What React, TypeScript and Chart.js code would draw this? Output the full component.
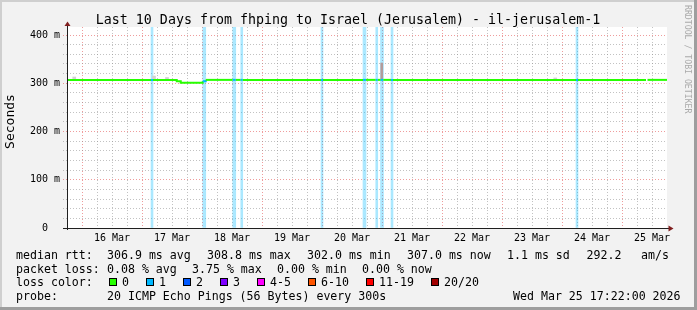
import React, { useEffect, useRef } from 'react';
import { Chart, registerables } from 'chart.js';

Chart.register(...registerables);

// ---- time axis (hours since 15 Mar 00:00) ----
const X_MIN = 18;
const X_MAX = 258;
const X_GRID_HOURS = [24, 30, 36, 42, 48, 54, 60, 66, 72, 78, 84, 90, 96, 102, 108, 114, 120, 126, 132, 138, 144, 150, 156, 162, 168, 174, 180, 186, 192, 198, 204, 210, 216, 222, 228, 234, 240, 246, 252];
const DAY_LABEL_HOURS = [36, 60, 84, 108, 132, 156, 180, 204, 228, 252];
const DAY_LABELS = ['16 Mar', '17 Mar', '18 Mar', '19 Mar', '20 Mar', '21 Mar', '22 Mar', '23 Mar', '24 Mar', '25 Mar'];

// ---- value axis (ms) ----
const Y_MAX = 416.6;
const Y_GRID = [0, 20, 40, 60, 80, 100, 120, 140, 160, 180, 200, 220, 240, 260, 280, 300, 320, 340, 360, 380, 400];
const Y_LABEL_VALUES = [0, 100, 200, 300, 400];
const Y_LABELS = ['0  ', '100 m', '200 m', '300 m', '400 m'];

// ---- median rtt (stepped) with loss index per step ----
const RTT_HOURS = [18, 51.6, 52.4, 61.9, 63.5, 72.3, 73.5, 84.3, 85.5, 87.5, 88.3, 119.6, 120.4, 136.4, 137.6, 141.5, 142.3, 143.5, 144.5, 147.6, 148.4, 221.6, 222.4, 249.6, 249.8, 250.2, 258];
const RTT_MS = [307, 307, 307, 304, 301.3, 304, 307, 307, 307, 307, 307, 307, 307, 307, 307, 307, 307, 307, 307, 307, 307, 307, 307, 307, null, 307, 307];
const RTT_LOSS = [0, 1, 0, 0, 0, 1, 0, 1, 0, 1, 0, 1, 0, 1, 0, 1, 0, 1, 0, 1, 0, 1, 0, 0, 0, 0, 0];

// ---- packet-loss background bars (hours) ----
const LOSS_BAR_HOURS_WIDE = [72.9, 84.9, 137.0, 144.0];
const LOSS_BAR_HOURS_NARROW = [52.0, 87.9, 120.0, 141.9, 148.0, 222.0];

// ---- smoke (ms ranges) ----
const SMOKE_HOURS = [20.9, 52.8, 58.0, 213.3];
const SMOKE_LOW = [308, 309, 309, 309];
const SMOKE_HIGH = [313, 315, 312, 311];
const SMOKE_DARK_HOURS = [143.9];
const SMOKE_DARK_LOW = [309];
const SMOKE_DARK_HIGH = [342];

// ---- legend ----
const LOSS_LEGEND_LABELS = ['0', '1', '2', '3', '4-5', '6-10', '11-19', '20/20'];
const LOSS_COLORS = ['#26ff00', '#00b8ff', '#0059ff', '#7e00ff', '#ff00ff', '#ff5500', '#ff0000', '#a10000'];
const RTT_STATS = ['306.9 ms avg', '308.8 ms max', '302.0 ms min', '307.0 ms now', '1.1 ms sd', '292.2', 'am/s'];
const LOSS_STATS = ['0.08 % avg', '3.75 % max', '0.00 % min', '0.00 % now'];
const PROBE_TEXT = '20 ICMP Echo Pings (56 Bytes) every 300s';
const DATE_TEXT = 'Wed Mar 25 17:22:00 2026';
const TITLE = 'Last 10 Days from fhping to Israel (Jerusalem) - il-jerusalem-1';
const Y_TITLE = 'Seconds';
const WATERMARK = 'RRDTOOL / TOBI OETIKER';

const MONO = '"DejaVu Sans Mono", monospace';
const GRID_MINOR = 'rgba(143,143,143,0.55)';
const GRID_MAJOR = 'rgba(225,75,75,0.55)';
const GRID_DASH = [1, 2];

const framePlugin = {
  id: 'rrdframe',
  beforeDraw(chart: any) {
    const ctx = chart.ctx;
    const W = chart.width, H = chart.height;
    const a = chart.chartArea;
    ctx.save();
    ctx.fillStyle = '#f2f2f2';
    ctx.fillRect(0, 0, W, H);
    ctx.fillStyle = '#cfcfcf';
    ctx.fillRect(0, 0, W, 2);
    ctx.fillRect(0, 0, 2, H);
    ctx.fillStyle = '#9e9e9e';
    ctx.fillRect(0, H - 3, W, 3);
    ctx.fillRect(W - 3, 0, 3, H);
    ctx.fillStyle = '#ffffff';
    ctx.fillRect(a.left, a.top, a.right - a.left, a.bottom - a.top);
    ctx.restore();
  },
  afterDraw(chart: any) {
    const ctx = chart.ctx;
    const a = chart.chartArea;
    ctx.save();
    // axes
    ctx.strokeStyle = '#1f1f1f';
    ctx.lineWidth = 1;
    ctx.beginPath();
    ctx.moveTo(a.left - 4, a.bottom + 0.5);
    ctx.lineTo(a.right + 3, a.bottom + 0.5);
    ctx.moveTo(a.left + 0.5, a.bottom + 2);
    ctx.lineTo(a.left + 0.5, a.top - 3);
    ctx.stroke();
    // arrows
    ctx.fillStyle = '#801f1f';
    ctx.beginPath();
    ctx.moveTo(a.left + 0.5, a.top - 5.5);
    ctx.lineTo(a.left - 2.5, a.top - 1);
    ctx.lineTo(a.left + 3.5, a.top - 1);
    ctx.closePath();
    ctx.fill();
    ctx.beginPath();
    ctx.moveTo(a.right + 6.5, a.bottom + 0.5);
    ctx.lineTo(a.right + 1.5, a.bottom - 2.5);
    ctx.lineTo(a.right + 1.5, a.bottom + 3.5);
    ctx.closePath();
    ctx.fill();

    // title
    ctx.fillStyle = '#000';
    ctx.font = `13.3px ${MONO}`;
    ctx.textAlign = 'center';
    ctx.textBaseline = 'alphabetic';
    ctx.fillText(TITLE, 348, 24);

    // y title
    ctx.save();
    ctx.translate(14, 121.5);
    ctx.rotate(-Math.PI / 2);
    ctx.font = `13px ${MONO}`;
    ctx.textAlign = 'center';
    ctx.textBaseline = 'alphabetic';
    ctx.fillText(Y_TITLE, 0, 0);
    ctx.restore();

    // watermark
    ctx.save();
    ctx.translate(684.5, 5);
    ctx.rotate(Math.PI / 2);
    ctx.font = `8.2px ${MONO}`;
    ctx.fillStyle = '#aaaaaa';
    ctx.textAlign = 'left';
    ctx.textBaseline = 'alphabetic';
    ctx.fillText(WATERMARK, 0, 0);
    ctx.restore();

    // legend
    ctx.font = `11.6px ${MONO}`;
    ctx.textAlign = 'left';
    ctx.textBaseline = 'alphabetic';
    ctx.fillStyle = '#000';
    const r1 = 259, r2 = 272.7, r3 = 286.3, r4 = 300;
    ctx.fillText('median rtt:', 16, r1);
    const rttX = [107, 207, 307, 407, 507, 586.5, 641];
    RTT_STATS.forEach((s, i) => ctx.fillText(s, rttX[i], r1));
    ctx.fillText('packet loss:', 16, r2);
    const lossX = [107, 192, 277, 362];
    LOSS_STATS.forEach((s, i) => ctx.fillText(s, lossX[i], r2));
    ctx.fillText('loss color:', 16, r3);
    const boxX = [108.5, 145.5, 182.5, 219.5, 256.5, 307.5, 365.5, 430.5];
    LOSS_LEGEND_LABELS.forEach((lab, i) => {
      const bx = Math.round(boxX[i]);
      ctx.fillStyle = '#000';
      ctx.fillRect(bx, 278, 8, 8);
      ctx.fillStyle = LOSS_COLORS[i];
      ctx.fillRect(bx + 1, 279, 6, 6);
      ctx.fillStyle = '#000';
      ctx.fillText(lab, bx + 13, r3);
    });
    ctx.fillText('probe:', 16, r4);
    ctx.fillText(PROBE_TEXT, 107, r4);
    ctx.fillText(DATE_TEXT, 513, r4);
    ctx.restore();
  },
};

export default function App() {
  const ref = useRef<HTMLCanvasElement>(null);
  useEffect(() => {
    document.body.style.margin = '0';
    const canvas = ref.current;
    if (!canvas) return;
    const lossBar = 'rgba(0,184,255,0.33)';
    const chart = new Chart(canvas, {
      type: 'line',
      data: {
        datasets: [
          {
            type: 'line',
            data: RTT_HOURS.map((h, i) => ({ x: h, y: RTT_MS[i] })),
            borderColor: LOSS_COLORS[0],
            borderWidth: 2,
            pointRadius: 0,
            stepped: true,
            spanGaps: false,
            fill: false,
            borderCapStyle: 'butt',
            segment: {
              borderColor: (c: any) => LOSS_COLORS[RTT_LOSS[c.p0DataIndex]],
            },
            order: 0,
          } as any,
          {
            type: 'bar',
            data: SMOKE_DARK_HOURS.map((h, i) => ({ x: h, y: [SMOKE_DARK_LOW[i], SMOKE_DARK_HIGH[i]] })),
            backgroundColor: '#b39b9b',
            barThickness: 2,
            grouped: false,
            order: 1,
          } as any,
          {
            type: 'bar',
            data: SMOKE_HOURS.map((h, i) => ({ x: h, y: [SMOKE_LOW[i], SMOKE_HIGH[i]] })),
            backgroundColor: '#d2d2d2',
            barThickness: 3,
            grouped: false,
            order: 2,
          } as any,
          {
            type: 'bar',
            data: LOSS_BAR_HOURS_WIDE.map((h) => ({ x: h, y: Y_MAX })),
            backgroundColor: lossBar,
            barThickness: 3,
            grouped: false,
            order: 3,
          } as any,
          {
            type: 'bar',
            data: LOSS_BAR_HOURS_NARROW.map((h) => ({ x: h, y: Y_MAX })),
            backgroundColor: lossBar,
            barThickness: 2,
            grouped: false,
            order: 4,
          } as any,
        ],
      },
      options: {
        responsive: false,
        animation: false,
        devicePixelRatio: 1,
        events: [],
        layout: { padding: { top: 27, right: 30, left: 0, bottom: 0 } },
        plugins: { legend: { display: false }, tooltip: { enabled: false }, title: { display: false } },
        scales: {
          x: {
            type: 'linear',
            min: X_MIN,
            max: X_MAX,
            offset: false,
            afterFit: (s: any) => { s.height = 82; },
            afterBuildTicks: (s: any) => { s.ticks = X_GRID_HOURS.map((v) => ({ value: v })); },
            grid: {
              offset: false,
              color: (c: any) => (c.tick && c.tick.value % 24 === 0 ? GRID_MAJOR : GRID_MINOR),
              lineWidth: 1,
              drawTicks: true,
              tickLength: 2,
              tickBorderDash: GRID_DASH,
            },
            border: { display: false, dash: GRID_DASH },
            ticks: {
              autoSkip: false,
              maxRotation: 0,
              minRotation: 0,
              padding: 2,
              color: '#000',
              font: { family: MONO, size: 10 },
              callback: (v: any) => {
                const i = DAY_LABEL_HOURS.indexOf(Number(v));
                return i >= 0 ? DAY_LABELS[i] : '';
              },
            },
          },
          y: {
            type: 'linear',
            min: 0,
            max: Y_MAX,
            afterFit: (s: any) => { s.width = 67; },
            afterBuildTicks: (s: any) => { s.ticks = Y_GRID.map((v) => ({ value: v })); },
            grid: {
              color: (c: any) => (c.tick && c.tick.value % 100 === 0 ? GRID_MAJOR : GRID_MINOR),
              lineWidth: 1,
              drawTicks: true,
              tickLength: 4,
              tickBorderDash: GRID_DASH,
            },
            border: { display: false, dash: GRID_DASH },
            ticks: {
              autoSkip: false,
              padding: 3,
              color: '#000',
              font: { family: MONO, size: 10 },
              callback: (v: any) => {
                const i = Y_LABEL_VALUES.indexOf(Number(v));
                return i >= 0 ? Y_LABELS[i] : '';
              },
            },
          },
        },
      } as any,
      plugins: [framePlugin],
    });
    return () => chart.destroy();
  }, []);
  return (
    <canvas
      ref={ref}
      width={697}
      height={310}
      style={{ display: 'block', width: '697px', height: '310px' }}
    />
  );
}
